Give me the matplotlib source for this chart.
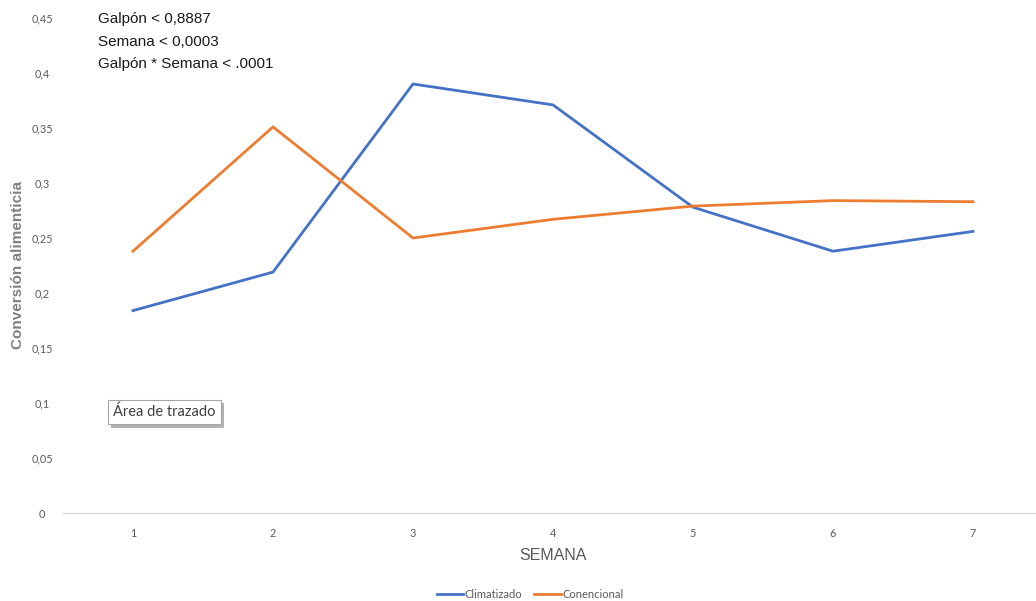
import matplotlib
matplotlib.use("Agg")
import matplotlib.pyplot as plt
import matplotlib.patheffects as pe
from matplotlib.ticker import FuncFormatter, MultipleLocator

semanas = [1, 2, 3, 4, 5, 6, 7]
climatizado = [0.184, 0.219, 0.390, 0.371, 0.278, 0.238, 0.256]
convencional = [0.238, 0.351, 0.250, 0.267, 0.279, 0.284, 0.283]
series_labels = ["Climatizado", "Conencional"]
stats_lines = ["Galpón < 0,8887", "Semana < 0,0003", "Galpón * Semana < .0001"]

blue = "#4472C4"
orange = "#ED7D31"
grey = "#595959"

fig = plt.figure(figsize=(10.36, 6.01), dpi=100)
ax = fig.add_axes([63 / 1036, 88 / 601, 980 / 1036, 495 / 601])

ax.plot(semanas, climatizado, color=blue, lw=2.0, label=series_labels[0],
        solid_joinstyle="miter")
ax.plot(semanas, convencional, color=orange, lw=2.0, label=series_labels[1],
        solid_joinstyle="miter")

ax.set_xlim(0.5, 7.5)
ax.set_ylim(0, 0.45)
ax.yaxis.set_major_locator(MultipleLocator(0.05))
ax.xaxis.set_major_locator(MultipleLocator(1))


def coma(v, pos):
    s = f"{v:.2f}".rstrip("0").rstrip(".")
    return s.replace(".", ",")


ax.yaxis.set_major_formatter(FuncFormatter(coma))
ax.xaxis.set_major_formatter(FuncFormatter(lambda v, p: f"{int(v)}"))

for side in ["top", "right", "left"]:
    ax.spines[side].set_visible(False)
ax.spines["bottom"].set_color("#D9D9D9")
ax.spines["bottom"].set_linewidth(1.0)
ax.tick_params(axis="both", length=0, labelsize=7.8, labelcolor=grey)
ax.tick_params(axis="y", pad=15)
ax.tick_params(axis="x", pad=11)
for lab in ax.get_xticklabels() + ax.get_yticklabels():
    lab.set_fontfamily("Lato")
for lab in ax.get_yticklabels():
    lab.set_horizontalalignment("center")

ax.set_xlabel("SEMANA", fontsize=11.5, color=grey, family="Liberation Sans",
              labelpad=6)
fig.text(18 / 1036, 1 - 265 / 601, "Conversión alimenticia", rotation=90,
         fontsize=11, fontweight="bold", color="#7F7F7F", family="Liberation Sans",
         ha="center", va="center")

y0 = 19
for i, line in enumerate(stats_lines):
    fig.text(98 / 1036, 1 - (y0 + i * 22.5) / 601, line, fontsize=11,
             color="#1a1a1a", family="Liberation Sans",
             ha="left", va="center")

tip = fig.text(113 / 1036, 1 - 412 / 601, "Área de trazado", fontsize=10.5,
               color="#404040", family="Lato", ha="left", va="center",
               bbox=dict(boxstyle="square,pad=0.35", fc="white", ec="#A6A6A6", lw=0.8))
tip.get_bbox_patch().set_path_effects(
    [pe.withSimplePatchShadow(offset=(2.5, -2.5), shadow_rgbFace="#808080", alpha=0.6)])

leg = fig.legend(loc="center", bbox_to_anchor=(530 / 1036, 1 - 594 / 601), ncol=2,
                 frameon=False, handlelength=2.4, handletextpad=0.1,
                 columnspacing=1.1, prop={"family": "Lato", "size": 8})
for t in leg.get_texts():
    t.set_color(grey)

fig.savefig("out.png", dpi=100)
